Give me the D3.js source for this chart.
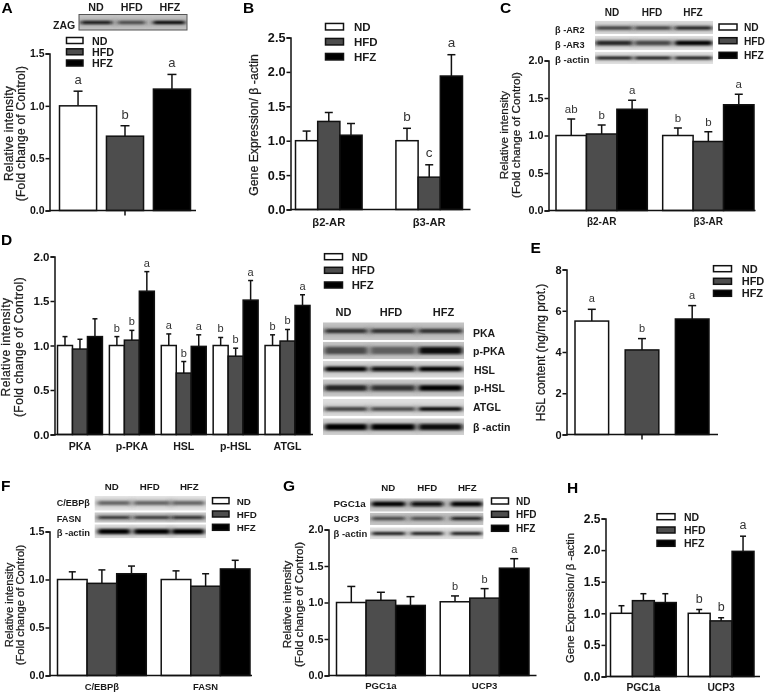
<!DOCTYPE html>
<html><head><meta charset="utf-8">
<script src="https://cdn.jsdelivr.net/npm/d3@7/dist/d3.min.js"></script>
<style>
html,body{margin:0;padding:0;background:#fff}
svg{display:block;filter:blur(0.3px)}
text{font-family:"Liberation Sans",Arial,sans-serif;fill:#1a1a1a}
</style></head><body><div id="c"></div>
<script>
const treatments = ["ND","HFD","HFZ"];
const fills = ["#ffffff","#4d4d4d","#000000"];

// values per treatment, one list per group
const catsA=[""], valA=[[1.00,0.71,1.16]], errA=[[0.14,0.10,0.14]], letA=[["a","b","a"]];
const catsB=["β2-AR","β3-AR"], valB=[[1.00,1.28,1.08],[1.00,0.47,1.94]], errB=[[0.14,0.13,0.17],[0.18,0.18,0.31]], letB=[["","",""],["b","c","a"]];
const catsC=["β2-AR","β3-AR"], valC=[[1.00,1.02,1.35],[1.00,0.92,1.41]], errC=[[0.22,0.12,0.12],[0.10,0.13,0.14]], letC=[["ab","b","a"],["b","b","a"]];
const catsD=["PKA","p-PKA","HSL","p-HSL","ATGL"];
const valD=[[1.00,0.96,1.10],[1.00,1.06,1.61],[1.00,0.69,0.99],[1.00,0.88,1.51],[1.00,1.05,1.45]];
const errD=[[0.10,0.11,0.20],[0.10,0.11,0.22],[0.13,0.13,0.13],[0.09,0.09,0.22],[0.12,0.13,0.12]];
const letD=[["","",""],["b","b","a"],["a","b","a"],["b","b","a"],["b","b","a"]];
const catsE=[""], valE=[[5.50,4.10,5.60]], errE=[[0.57,0.55,0.65]], letE=[["a","b","a"]];
const catsF=["C/EBPβ","FASN"], valF=[[1.00,0.96,1.06],[1.00,0.93,1.11]], errF=[[0.08,0.14,0.08],[0.09,0.13,0.09]], letF=[["","",""],["","",""]];
const catsG=["PGC1a","UCP3"], valG=[[1.00,1.03,0.96],[1.01,1.06,1.47]], errG=[[0.22,0.11,0.12],[0.08,0.13,0.13]], letG=[["","",""],["b","b","a"]];
const catsH=["PGC1a","UCP3"], valH=[[1.00,1.20,1.17],[1.00,0.88,1.98]], errH=[[0.12,0.11,0.14],[0.06,0.05,0.24]], letH=[["","",""],["b","b","a"]];

const relTitle=["Relative intensity","(Fold change of Control)"];
const panels=[
 {id:"A",lx:1.5,ly:12.5,cats:catsA,val:valA,err:errA,let:letA,max:1.5,step:0.5,ax:49.5,y0:210.5,yt:53.5,end:196,x0:59.5,x1:190.5,pad:0.21,flat:true,cap:9,title:relTitle,tx:[12.5,25],tm:133.5,tfs:12,tls:0.25,yfs:10.5,legend:{x:66.5,w:16.5,h:6,ys:[40.5,51.8,63],tx:92,fs:10.7},lg:13,gap:7},
 {id:"B",lx:243,ly:12.5,cats:catsB,val:valB,err:errB,let:letB,max:2.5,step:0.5,ax:290.5,y0:209.5,yt:37.5,end:470.5,x0:295.5,x1:462.5,pad:0.337,cap:8,title:["Gene Expression/ β -actin"],tx:[258],tm:125,tfs:12.3,yfs:12.7,legend:{x:325.5,w:18,h:6.5,ys:[26.7,41.7,56.7],tx:354,fs:11.5},lg:13.5,gap:7.5,labY:226,lfs:11.2},
 {id:"C",lx:500,ly:13,cats:catsC,val:valC,err:errC,let:letC,max:2,step:0.5,ax:548.5,y0:210.5,yt:60.5,end:755.5,x0:556,x1:754,pad:0.144,cap:8,title:relTitle,tx:[508,520],tm:135,tfs:11.7,yfs:10.8,legend:{x:719,w:18,h:6,ys:[27,40.7,55.3],tx:744,fs:10.2},lg:11.5,gap:6,labY:225,lfs:10},
 {id:"D",lx:1,ly:245,cats:catsD,val:valD,err:errD,let:letD,max:2,step:0.5,ax:54.5,y0:434.5,yt:256.5,end:313,x0:57.5,x1:310,pad:0.134,cap:5,title:relTitle,tx:[10,22.5],tm:347,tfs:12,tls:0.45,yfs:11.5,legend:{x:324.5,w:18,h:6,ys:[256.7,270.3,285],tx:351.7,fs:11.3},lg:11,gap:5,labY:450,lfs:10.6},
 {id:"E",lx:530.5,ly:252.5,cats:catsE,val:valE,err:errE,let:letE,max:8,step:2,ax:566.5,y0:434.5,yt:269.5,end:718,x0:575,x1:709,pad:0.33,flat:true,cap:8,title:["HSL content (ng/mg prot.)"],tx:[545],tm:352.5,tfs:12,yfs:11,legend:{x:713.5,w:18,h:6,ys:[268.7,281.3,293.3],tx:741.7,fs:11},lg:11,gap:7,noYFmt:true},
 {id:"F",lx:1,ly:490.5,cats:catsF,val:valF,err:errF,let:letF,max:1.5,step:0.5,ax:49.5,y0:675.5,yt:531.5,end:252,x0:57.5,x1:250,pad:0.144,cap:7,title:relTitle,tx:[12.7,24],tm:605,tfs:11.2,yfs:10.8,legend:{x:212.5,w:16.5,h:6,ys:[500.7,514,527.3],tx:236.7,fs:9.8},lg:11,gap:6,labY:690,lfs:9.4},
 {id:"G",lx:283,ly:490.5,cats:catsG,val:valG,err:errG,let:letG,max:2,step:0.5,ax:328.5,y0:675.5,yt:529.5,end:536.5,x0:336.5,x1:529,pad:0.144,cap:8,title:relTitle,tx:[291,303],tm:604.5,tfs:11.6,yfs:10.8,legend:{x:491.5,w:17,h:6,ys:[501,514.3,528.3],tx:516,fs:10},lg:11,gap:6,labY:689,lfs:9.6},
 {id:"H",lx:567,ly:492.5,cats:catsH,val:valH,err:errH,let:letH,max:2.5,step:0.5,ax:605.5,y0:676.5,yt:518.5,end:760,x0:610.5,x1:754,pad:0.154,cap:6,title:["Gene Expression/ β -actin"],tx:[574],tm:598,tfs:11.3,yfs:12,legend:{x:657,w:18,h:6,ys:[516.7,530,543.3],tx:684,fs:10.5},lg:12.5,gap:6.7,labY:691,lfs:10.3}
];

// Western blot strips: band darkness per lane
const blots=[
 {x0:79,x1:187,frame:true,heads:[96,131.7,170],headY:11,hfs:10.7,lanes:[[81,112],[118,145],[153,185]],rows:[
   {name:"ZAG",lx:53,ly:29,fs:10.5,y0:14.5,y1:30,c:22.5,t:3,dark:[0.95,0.6,1],bg:"#c4c4c4"}]},
 {x0:595,x1:713,heads:[612,652,693],headY:15.7,hfs:10,lanes:[[596,632],[635,671],[675,712]],rows:[
   {name:"β -AR2",lx:555,ly:33,fs:9.2,y0:20.7,y1:34,c:28,t:3,dark:[.7,.7,.9],bg:"#dcdcdc"},
   {name:"β -AR3",lx:555,ly:48,fs:9.2,y0:36,y1:50,c:43,t:4.5,dark:[.8,.6,1],bg:"#e2e2e2"},
   {name:"β -actin",lx:555,ly:63,fs:9.7,y0:51.7,y1:64,c:58,t:2.5,dark:[1,1,1],bg:"#e6e6e6"}]},
 {x0:323,x1:464,heads:[343.5,391,443.5],headY:316,hfs:11,lanes:[[325,367],[371,415],[419,462]],rows:[
   {name:"PKA",lx:473,ly:337.3,fs:10.5,y0:322.3,y1:340,c:331,t:4,dark:[.7,.7,.7],bg:"#c4c4c4"},
   {name:"p-PKA",lx:473,ly:355,fs:10.5,y0:341.7,y1:359.3,c:350.5,t:7,dark:[.55,.45,.9],bg:"#c8c8c8"},
   {name:"HSL",lx:474,ly:374,fs:10.5,y0:360.7,y1:377.7,c:369,t:4.5,dark:[1,.9,1],bg:"#dadada"},
   {name:"p-HSL",lx:474,ly:392,fs:10.5,y0:379.3,y1:396.7,c:388,t:5.5,dark:[.8,.7,1],bg:"#cbcbcb"},
   {name:"ATGL",lx:473,ly:411,fs:10.5,y0:399,y1:416,c:409,t:3.5,dark:[.65,.6,1],bg:"#dedede"},
   {name:"β -actin",lx:473,ly:431,fs:10.5,y0:418.3,y1:435,c:427,t:6,dark:[1,1,.95],bg:"#d4d4d4"}]},
 {x0:94.5,x1:206,heads:[111.7,149.7,189.3],headY:490,hfs:9.7,lanes:[[98,130],[134,170],[172,204]],rows:[
   {name:"C/EBPβ",lx:56.7,ly:506,fs:9,y0:496,y1:510.7,c:503,t:3.5,dark:[.45,.45,.45],bg:"#e6e6e6"},
   {name:"FASN",lx:56.7,ly:521.7,fs:9.2,y0:512.3,y1:522.7,c:517.5,t:2.5,dark:[.85,.8,.9],bg:"#d0d0d0"},
   {name:"β -actin",lx:56.7,ly:535.7,fs:9.4,y0:524.3,y1:538.3,c:531.5,t:5,dark:[1,1,1],bg:"#e2e2e2"}]},
 {x0:370,x1:483.5,heads:[388.3,427.3,467.3],headY:490.7,hfs:9.7,lanes:[[372,405],[411,443],[451,482]],rows:[
   {name:"PGC1a",lx:333.5,ly:507.3,fs:9.8,y0:498.3,y1:511.7,c:504,t:4.5,dark:[1,.95,1],bg:"#cfcfcf"},
   {name:"UCP3",lx:333.5,ly:521.7,fs:9.6,y0:512.7,y1:525,c:518.5,t:3,dark:[.6,.55,.85],bg:"#c8c8c8"},
   {name:"β -actin",lx:333.5,ly:536.7,fs:9.5,y0:527.3,y1:539.3,c:533.5,t:2.5,dark:[1,1,1],bg:"#e6e6e6"}]}
];

const svg=d3.select("#c").append("svg").attr("width",766).attr("height",693);
const defs=svg.append("defs");
const blurF=(id,sd)=>defs.append("filter").attr("id",id).attr("x","-10%").attr("y","-150%").attr("width","120%").attr("height","400%")
   .append("feGaussianBlur").attr("stdDeviation",sd);
blurF("bb","2 0.9"); blurF("bh","3 2.2");
svg.append("rect").attr("width",766).attr("height",693).attr("fill","#fff");

const grey=v=>{const k=Math.round(v);return d3.rgb(k,k,k).formatHex();};

// blots
blots.forEach((b,bi)=>{
  const g=svg.append("g");
  b.heads.forEach((x,i)=>g.append("text").attr("x",x).attr("y",b.headY).attr("text-anchor","middle").attr("font-weight","bold").attr("font-size",b.hfs).text(treatments[i]));
  b.rows.forEach((r,ri)=>{
    const id=`cl${bi}_${ri}`;
    g.append("clipPath").attr("id",id).append("rect").attr("x",b.x0).attr("y",r.y0).attr("width",b.x1-b.x0).attr("height",r.y1-r.y0);
    const inner=g.append("g").attr("clip-path",`url(#${id})`);
    inner.append("rect").attr("x",b.x0).attr("y",r.y0).attr("width",b.x1-b.x0).attr("height",r.y1-r.y0).attr("fill",r.bg);
    inner.selectAll("rect.h").data(r.dark).join("rect").attr("class","h")
      .attr("x",(d,i)=>b.lanes[i][0]-3).attr("width",(d,i)=>b.lanes[i][1]-b.lanes[i][0]+6)
      .attr("y",r.c-r.t/2-1.5).attr("height",r.t+3).attr("fill","#555").attr("opacity",.35).attr("filter","url(#bh)");
    inner.selectAll("rect.b").data(r.dark).join("rect").attr("class","b")
      .attr("x",(d,i)=>b.lanes[i][0]).attr("width",(d,i)=>b.lanes[i][1]-b.lanes[i][0])
      .attr("y",r.c-r.t/2).attr("height",r.t).attr("rx",1.5)
      .attr("fill",d=>grey(170*(1-d))).attr("filter","url(#bb)");
    if(b.frame) g.append("rect").attr("x",b.x0).attr("y",r.y0).attr("width",b.x1-b.x0).attr("height",r.y1-r.y0).attr("fill","none").attr("stroke","#555").attr("stroke-width",1);
    g.append("text").attr("x",r.lx).attr("y",r.ly).attr("font-weight","bold").attr("font-size",r.fs).text(r.name);
  });
});

// panels
const FF='"Liberation Sans",Arial,sans-serif';
panels.forEach(p=>{
  const g=svg.append("g");
  g.append("text").attr("x",p.lx).attr("y",p.ly).attr("font-weight","bold").attr("font-size",15.5).style("fill","#000").text(p.id);
  const y=d3.scaleLinear().domain([0,p.max]).range([p.y0,p.yt]);
  const xg=d3.scaleBand().domain(p.cats).range([p.x0,p.x1]).paddingInner(p.flat?0:p.pad).paddingOuter(0);
  const xs=d3.scaleBand().domain(treatments).range([0,xg.bandwidth()]).paddingInner(p.flat?p.pad:0).paddingOuter(0);

  // bars and errors
  p.cats.forEach((c,ci)=>{
    const gg=g.append("g").attr("transform",`translate(${xg(c)},0)`);
    const rows=treatments.map((t,i)=>({t,i,v:p.val[ci][i],e:p.err[ci][i],l:p.let[ci][i]}));
    const cx=d=>xs(d.t)+xs.bandwidth()/2;
    gg.selectAll("line.e").data(rows).join("line").attr("class","e").attr("x1",cx).attr("x2",cx)
      .attr("y1",d=>y(d.v)).attr("y2",d=>y(d.v+d.e)).attr("stroke","#111").attr("stroke-width",1.5);
    gg.selectAll("line.c").data(rows).join("line").attr("class","c").attr("x1",d=>cx(d)-p.cap/2).attr("x2",d=>cx(d)+p.cap/2)
      .attr("y1",d=>y(d.v+d.e)).attr("y2",d=>y(d.v+d.e)).attr("stroke","#111").attr("stroke-width",1.5);
    gg.selectAll("rect").data(rows).join("rect").attr("x",d=>xs(d.t)).attr("width",xs.bandwidth())
      .attr("y",d=>y(d.v)).attr("height",d=>y(0)-y(d.v)).attr("fill",d=>fills[d.i]).attr("stroke","#111").attr("stroke-width",1.5);
    gg.selectAll("text").data(rows.filter(d=>d.l)).join("text").attr("x",cx).attr("y",d=>y(d.v+d.e)-p.gap)
      .attr("text-anchor","middle").attr("font-size",p.lg).style("fill","#333").text(d=>d.l);
  });

  // y axis
  const ticks=d3.range(0,p.max+1e-6,p.step);
  const yAxis=d3.axisLeft(y).tickValues(ticks).tickSize(4).tickPadding(1).tickFormat(p.noYFmt?d3.format("d"):d3.format(".1f"));
  const ya=g.append("g").attr("transform",`translate(${p.ax},0)`).call(yAxis);
  ya.selectAll("path").attr("stroke","#111").attr("stroke-width",1.5);
  ya.selectAll("line").attr("stroke","#111").attr("stroke-width",1.5);
  ya.selectAll("text").attr("font-weight","bold").attr("font-size",p.yfs).style("font-family",FF).style("fill","#111");

  // x axis
  g.append("line").attr("x1",p.ax).attr("x2",p.end).attr("y1",p.y0).attr("y2",p.y0).attr("stroke","#111").attr("stroke-width",1.5);
  const xAxis=d3.axisBottom(xg).tickSize(p.flat?5:0).tickPadding(0);
  const xa=g.append("g").attr("transform",`translate(0,${p.flat?p.y0:p.labY})`).call(xAxis);
  xa.select("path").remove();
  xa.selectAll("line").attr("stroke","#111").attr("stroke-width",1.5);
  xa.selectAll("text").attr("y",0).attr("dy",0).attr("font-weight","bold").attr("font-size",p.lfs||11).style("font-family",FF).style("fill","#1a1a1a");

  // y title
  p.title.forEach((t,i)=>{
    g.append("text").attr("transform",`translate(${p.tx[i]},${p.tm}) rotate(-90)`)
      .attr("text-anchor","middle").attr("font-size",p.tfs)
      .style("letter-spacing",(p.tls||0)+"px")
      .style("stroke","#1a1a1a").style("stroke-width","0.25px").text(t);
  });

  // legend
  const lg=g.append("g");
  lg.selectAll("rect").data(treatments).join("rect").attr("x",p.legend.x).attr("width",p.legend.w)
    .attr("y",(d,i)=>p.legend.ys[i]-p.legend.h/2).attr("height",p.legend.h)
    .attr("fill",(d,i)=>fills[i]).attr("stroke","#111").attr("stroke-width",1.5);
  lg.selectAll("text").data(treatments).join("text").attr("x",p.legend.tx).attr("y",(d,i)=>p.legend.ys[i]+4)
    .attr("font-weight","bold").attr("font-size",p.legend.fs).text(d=>d);
});
</script></body></html>
